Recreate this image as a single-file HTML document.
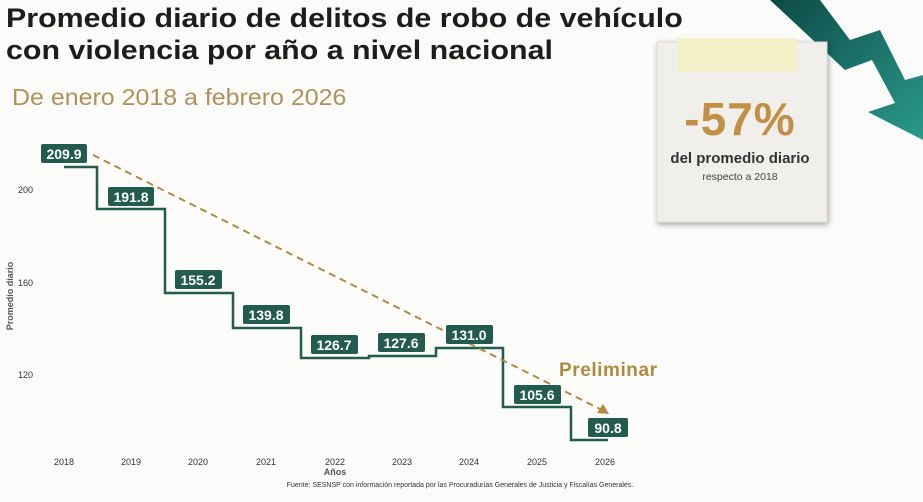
<!DOCTYPE html>
<html><head><meta charset="utf-8"><style>
body{margin:0;width:923px;height:502px;overflow:hidden;background:#fbfbf9;font-family:"Liberation Sans","DejaVu Sans",sans-serif;position:relative}
.t{position:absolute;left:6px;top:2px;font-size:27px;font-weight:bold;color:#1d1d1d;line-height:32px;transform-origin:0 0;transform:scaleX(1.125);white-space:nowrap}
.s{position:absolute;left:12px;top:84px;font-size:23px;color:#b0915a;transform-origin:0 0;transform:scaleX(1.085);white-space:nowrap}
</style></head><body>
<div class="t">Promedio diario de delitos de robo de vehículo<br>con violencia por año a nivel nacional</div>
<div class="s">De enero 2018 a febrero 2026</div>
<svg width="923" height="502" style="position:absolute;left:0;top:0">
<defs><linearGradient id="g" x1="0" y1="0" x2="1" y2="1"><stop offset="0" stop-color="#0d4a48"/><stop offset="1" stop-color="#2a9a88"/></linearGradient></defs>
<polygon points="770,0 820,0 850,40 880,30 905,80 923,75 923,140 868,112 895,103 872,60 845,70" fill="url(#g)"/>
<rect x="657" y="42" width="170" height="180" fill="#f0efec" stroke="#ddd" style="filter:drop-shadow(1px 2px 3px rgba(0,0,0,.35))"/>
<rect x="677" y="38" width="120" height="34" fill="#f3efc6" opacity=".95"/>
<text x="740" y="135" text-anchor="middle" font-size="46" font-weight="bold" fill="#c28f45" letter-spacing="1">-57%</text>
<text x="740" y="163" text-anchor="middle" font-size="15" font-weight="bold" fill="#333">del promedio diario</text>
<text x="740" y="180" text-anchor="middle" font-size="10.5" fill="#444">respecto a 2018</text>
<g font-size="9" fill="#333">
<text x="18" y="193">200</text><text x="18" y="286">160</text><text x="18" y="378">120</text>
<text x="13" y="296" transform="rotate(-90 13 296)" text-anchor="middle" font-weight="bold" fill="#555">Promedio diario</text>
<g text-anchor="middle"><text x="64" y="465">2018</text><text x="131" y="465">2019</text><text x="198" y="465">2020</text><text x="266" y="465">2021</text><text x="335" y="465">2022</text><text x="402" y="465">2023</text><text x="469" y="465">2024</text><text x="537" y="465">2025</text><text x="605" y="465">2026</text>
<text x="335" y="475" font-weight="bold" fill="#555">Años</text>
<text x="460" y="487" font-size="7">Fuente: SESNSP con información reportada por las Procuradurías Generales de Justicia y Fiscalías Generales.</text></g>
</g>
<polyline points="64,167 97,167 97,209 165,209 165,293 233,293 233,328 301,328 301,358 369,358 369,356 436,356 436,348 503,348 503,407 571,407 571,440 608,440" fill="none" stroke="#235b4e" stroke-width="2.5"/>
<line x1="93" y1="155" x2="602" y2="410" stroke="#b08a3e" stroke-width="2" stroke-dasharray="7,5"/>
<polygon points="609,414 597,413 603,404" fill="#b08a3e"/>
<text x="559" y="376" font-size="19" font-weight="bold" fill="#b08a3e" textLength="98">Preliminar</text>
<g font-size="14" font-weight="bold" fill="#fff" text-anchor="middle">
<rect x="41" y="144" width="46" height="19" rx="2" fill="#235b4e"/><text x="64" y="159">209.9</text>
<rect x="108" y="187" width="46" height="19" rx="2" fill="#235b4e"/><text x="131" y="202">191.8</text>
<rect x="175" y="270" width="47" height="19" rx="2" fill="#235b4e"/><text x="198" y="285">155.2</text>
<rect x="243" y="305" width="47" height="19" rx="2" fill="#235b4e"/><text x="266" y="320">139.8</text>
<rect x="311" y="335" width="47" height="19" rx="2" fill="#235b4e"/><text x="334" y="350">126.7</text>
<rect x="378" y="333" width="47" height="19" rx="2" fill="#235b4e"/><text x="401" y="348">127.6</text>
<rect x="446" y="325" width="47" height="19" rx="2" fill="#235b4e"/><text x="469" y="340">131.0</text>
<rect x="514" y="385" width="47" height="19" rx="2" fill="#235b4e"/><text x="537" y="400">105.6</text>
<rect x="588" y="418" width="40" height="19" rx="2" fill="#235b4e"/><text x="608" y="433">90.8</text>
</g>
</svg>
</body></html>
